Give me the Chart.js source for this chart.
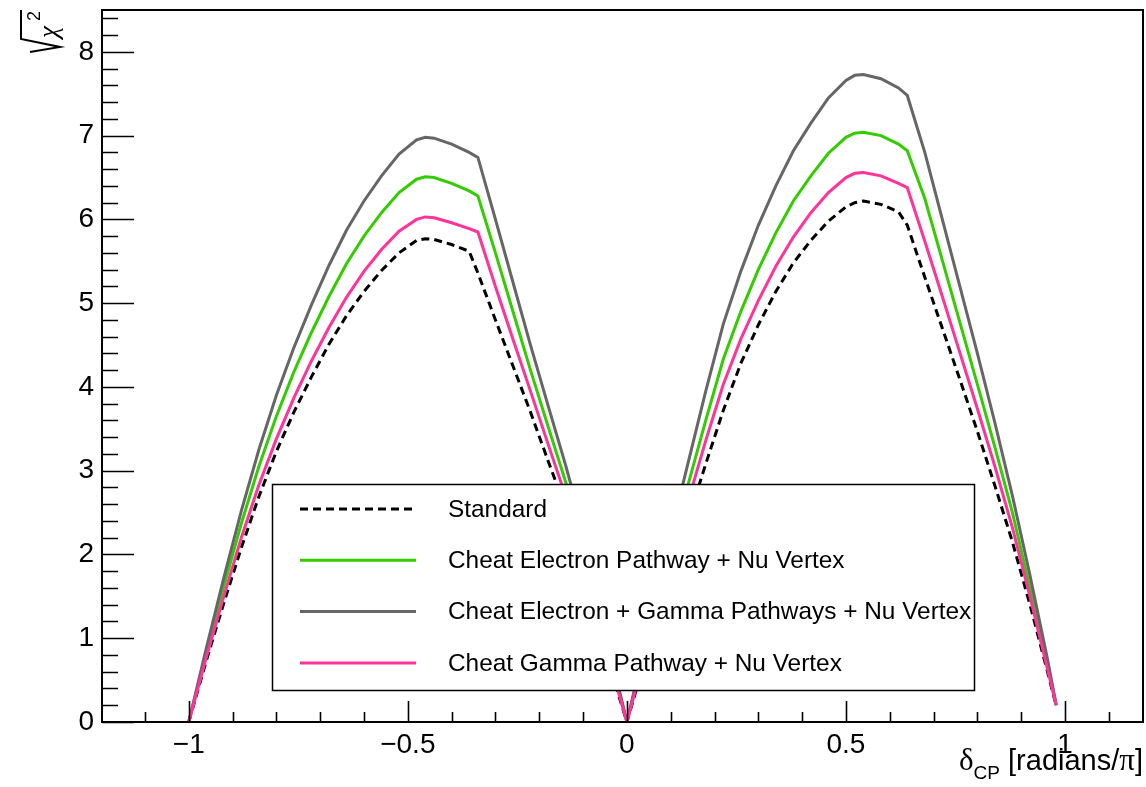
<!DOCTYPE html>
<html>
<head>
<meta charset="utf-8">
<script src="https://cdn.jsdelivr.net/npm/chart.js@4.4.1/dist/chart.umd.min.js"></script>
<style>
  html, body { margin: 0; padding: 0; background: #fff; }
</style>
</head>
<body>
<canvas id="chSens" width="1146" height="787"></canvas>
<script>
// delta_CP en unidades de pi
const deltaCP = [-1, -0.96, -0.92, -0.88, -0.84, -0.8, -0.76, -0.72, -0.68, -0.64, -0.6, -0.56, -0.52, -0.48, -0.46, -0.44, -0.4, -0.36, -0.34,
  -0.3, -0.26, -0.22, -0.18, -0.14, -0.1, -0.06, -0.02, 0,
  0.02, 0.06, 0.1, 0.14, 0.18, 0.22, 0.26, 0.3, 0.34, 0.38, 0.42, 0.46, 0.5, 0.52, 0.54, 0.58, 0.62, 0.64,
  0.68, 0.72, 0.76, 0.8, 0.84, 0.88, 0.92, 0.96, 0.98];

const standard = [0, 0.73, 1.42, 2.08, 2.69, 3.23, 3.70, 4.12, 4.51, 4.85, 5.14, 5.39, 5.6, 5.75, 5.77, 5.76, 5.7, 5.62, 5.36,
  4.8, 4.25, 3.7, 3.12, 2.55, 1.88, 1.15, 0.34, 0,
  0.36, 1.05, 1.75, 2.42, 3.08, 3.72, 4.28, 4.74, 5.14, 5.48, 5.75, 5.98, 6.15, 6.2, 6.22, 6.18, 6.09, 5.93,
  5.31, 4.7, 4.09, 3.47, 2.82, 2.15, 1.4, 0.6, 0.19];

const cheatElectron = [0, 0.83, 1.62, 2.37, 3.05, 3.65, 4.18, 4.65, 5.08, 5.47, 5.8, 6.08, 6.32, 6.48, 6.51, 6.5, 6.43, 6.34, 6.28,
  5.6, 4.9, 4.2, 3.53, 2.87, 2.15, 1.31, 0.41, 0,
  0.42, 1.24, 2.06, 2.84, 3.6, 4.33, 4.9, 5.4, 5.84, 6.22, 6.52, 6.79, 6.98, 7.03, 7.04, 7.0, 6.9, 6.82,
  6.25, 5.51, 4.77, 4.03, 3.28, 2.5, 1.6, 0.68, 0.2];

const cheatAll = [0, 0.88, 1.72, 2.52, 3.25, 3.9, 4.47, 4.98, 5.45, 5.87, 6.22, 6.52, 6.78, 6.95, 6.98, 6.97, 6.9, 6.8, 6.74,
  6.0, 5.25, 4.5, 3.78, 3.07, 2.3, 1.4, 0.44, 0,
  0.45, 1.35, 2.25, 3.1, 3.95, 4.75, 5.38, 5.93, 6.4, 6.82, 7.15, 7.45, 7.66, 7.72, 7.73, 7.68, 7.57, 7.48,
  6.8, 6.0, 5.2, 4.4, 3.57, 2.7, 1.75, 0.75, 0.2];

const cheatGamma = [0, 0.77, 1.5, 2.2, 2.83, 3.38, 3.87, 4.31, 4.71, 5.07, 5.38, 5.64, 5.86, 6.0, 6.03, 6.02, 5.96, 5.89, 5.85,
  5.2, 4.57, 3.95, 3.32, 2.7, 2.0, 1.22, 0.37, 0,
  0.39, 1.15, 1.92, 2.64, 3.36, 4.03, 4.57, 5.03, 5.44, 5.79, 6.08, 6.32, 6.5, 6.55, 6.56, 6.52, 6.43, 6.38,
  5.74, 5.08, 4.41, 3.74, 3.05, 2.32, 1.5, 0.63, 0.2];

const etiquetas = ["Standard", "Cheat Electron Pathway + Nu Vertex", "Cheat Electron + Gamma Pathways + Nu Vertex", "Cheat Gamma Pathway + Nu Vertex"];
const colores = ["#000000", "#33cc00", "#666666", "#ff3399"];
const guiones = [[8, 5], [], [], []];

const X_MIN = -1.198, X_MAX = 1.178;
const Y_MIN = 0, Y_MAX = 8.5;

const FUENTE = "'Liberation Sans', Arial, Helvetica, sans-serif";
const GRIEGA = "'Liberation Serif', 'Times New Roman', serif";

const puntos = serie => deltaCP.map((x, i) => ({ x: x, y: serie[i] }));
const menos = v => (v < 0 ? "\u2212" + Math.abs(v) : String(v));

/** Marco estilo ROOT: caja negra, marcas hacia adentro y titulos de ejes. */
const marcoRoot = {
  id: "marcoRoot",
  afterDraw(chart) {
    const { ctx, chartArea: a, scales } = chart;
    const sx = scales.x, sy = scales.y;
    ctx.save();
    ctx.strokeStyle = "#000";
    ctx.lineWidth = 2;
    ctx.strokeRect(a.left, a.top, a.right - a.left, a.bottom - a.top);

    ctx.beginPath();
    for (let k = -12; k <= 12; k++) {
      const v = k / 10;
      if (v < X_MIN || v > X_MAX) continue;
      const px = Math.round(sx.getPixelForValue(v)) + 0.5;
      const largo = k % 5 === 0 ? 21 : 10;
      ctx.moveTo(px, a.bottom);
      ctx.lineTo(px, a.bottom - largo);
    }
    for (let k = 0; k <= 42; k++) {
      const v = k / 5;
      if (v > Y_MAX) continue;
      const py = Math.round(sy.getPixelForValue(v)) + 0.5;
      const largo = k % 5 === 0 ? 32 : 16;
      ctx.moveTo(a.left, py);
      ctx.lineTo(a.left + largo, py);
    }
    ctx.lineWidth = 1.6;
    ctx.stroke();

    // titulo eje x: delta_CP [radians/pi]
    ctx.fillStyle = "#000";
    ctx.textBaseline = "alphabetic";
    const fTexto = "29px " + FUENTE, fGriega = "31px " + GRIEGA, fSub = "19px " + FUENTE;
    ctx.font = fGriega;
    const wD = ctx.measureText("\u03b4").width;
    const wPi = ctx.measureText("\u03c0").width;
    ctx.font = fTexto;
    const t1 = " [radians/", t2 = "]";
    const w1 = ctx.measureText(t1).width, w2 = ctx.measureText(t2).width;
    ctx.font = fSub;
    const wS = ctx.measureText("CP").width;
    let x = a.right - (wD + wS + w1 + wPi + w2);
    const base = 770;
    ctx.font = fGriega;
    ctx.fillText("\u03b4", x, base); x += wD;
    ctx.font = fSub;
    ctx.fillText("CP", x, base + 9); x += wS;
    ctx.font = fTexto;
    ctx.fillText(t1, x, base); x += w1;
    ctx.font = fGriega;
    ctx.fillText("\u03c0", x, base); x += wPi;
    ctx.font = fTexto;
    ctx.fillText(t2, x, base);

    // titulo eje y: raiz de chi^2, rotado
    ctx.save();
    ctx.translate(60, 53);
    ctx.rotate(-Math.PI / 2);
    ctx.lineWidth = 2;
    ctx.beginPath();
    ctx.moveTo(1, -30);
    ctx.lineTo(6, 0);
    ctx.lineTo(14, -39);
    ctx.lineTo(43, -39);
    ctx.stroke();
    ctx.font = "italic 27px " + GRIEGA;
    ctx.fillText("\u03c7", 15, -3);
    ctx.font = "18px " + FUENTE;
    ctx.fillText("2", 32, -20);
    ctx.restore();

    ctx.restore();
  },
};

/** Leyenda en caja blanca dentro del area de la grafica. */
const leyendaRoot = {
  id: "leyendaRoot",
  afterDatasetsDraw(chart) {
    const { ctx } = chart;
    const caja = { x: 272, y: 484, w: 702, h: 206 };
    ctx.save();
    ctx.fillStyle = "#fff";
    ctx.fillRect(caja.x, caja.y, caja.w, caja.h);
    ctx.strokeStyle = "#000";
    ctx.lineWidth = 1.5;
    ctx.strokeRect(caja.x + 0.5, caja.y + 0.5, caja.w, caja.h);
    ctx.font = "24.4px " + FUENTE;
    ctx.textBaseline = "middle";
    ctx.fillStyle = "#000";
    etiquetas.forEach((txt, i) => {
      const y = 509 + i * 51.3;
      ctx.beginPath();
      ctx.setLineDash(guiones[i]);
      ctx.strokeStyle = colores[i];
      ctx.lineWidth = 3;
      ctx.moveTo(300, y);
      ctx.lineTo(416, y);
      ctx.stroke();
      ctx.setLineDash([]);
      ctx.fillText(txt, 448, y + 1);
    });
    ctx.restore();
  },
};

const series = [standard, cheatElectron, cheatAll, cheatGamma];
const orden = [4, 3, 2, 1];

new Chart(document.getElementById("chSens"), {
  type: "line",
  data: {
    datasets: series.map((s, i) => ({
      label: etiquetas[i],
      data: puntos(s),
      borderColor: colores[i],
      borderDash: guiones[i],
      borderWidth: 3,
      pointRadius: 0,
      tension: 0,
      fill: false,
      order: orden[i],
    })),
  },
  options: {
    responsive: false,
    animation: false,
    layout: { padding: { top: 10, right: 3, left: 0, bottom: 0 } },
    plugins: { legend: { display: false }, tooltip: { enabled: false } },
    scales: {
      x: {
        type: "linear",
        min: X_MIN,
        max: X_MAX,
        afterFit(scale) { scale.height = 65; scale.paddingLeft = 0; scale.paddingRight = 0; },
        grid: { display: false, drawTicks: false },
        border: { display: false },
        ticks: {
          stepSize: 0.5,
          includeBounds: false,
          autoSkip: false,
          maxRotation: 0,
          padding: 6,
          color: "#000",
          font: { size: 28, family: FUENTE },
          callback: v => menos(v),
        },
      },
      y: {
        type: "linear",
        min: Y_MIN,
        max: Y_MAX,
        afterFit(scale) { scale.width = 102; scale.paddingTop = 0; scale.paddingBottom = 0; },
        grid: { display: false, drawTicks: false },
        border: { display: false },
        ticks: {
          stepSize: 1,
          includeBounds: false,
          autoSkip: false,
          padding: 8,
          color: "#000",
          font: { size: 28, family: FUENTE },
          callback: v => menos(v),
        },
      },
    },
  },
  plugins: [marcoRoot, leyendaRoot],
});
</script>
</body>
</html>
